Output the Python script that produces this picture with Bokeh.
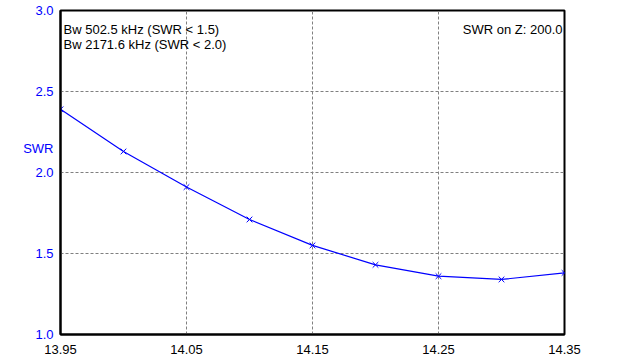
from bokeh.plotting import figure
from bokeh.models import Range1d, FixedTicker, Label, PrintfTickFormatter, ColumnDataSource
from bokeh.embed import file_html
from bokeh.resources import INLINE

# ---- data ----
freq = [13.95, 14.00, 14.05, 14.10, 14.15, 14.20, 14.25, 14.30, 14.35]
swr = [2.39, 2.13, 1.91, 1.71, 1.55, 1.43, 1.36, 1.34, 1.38]
x_ticks = [13.95, 14.05, 14.15, 14.25, 14.35]
y_ticks = [1.0, 1.5, 2.0, 2.5, 3.0]
bw_lines = ["Bw 502.5 kHz (SWR < 1.5)", "Bw 2171.6 kHz (SWR < 2.0)"]
z_text = "SWR on Z: 200.0"
y_title = "SWR"
y_title_pos = 2.15

FONT = "Liberation Sans"
BLUE = "#0000FF"

src = ColumnDataSource(data=dict(f=freq, s=swr))

p = figure(width=624, height=364, output_backend="svg", toolbar_location=None,
           x_range=Range1d(freq[0], freq[-1]), y_range=Range1d(y_ticks[0], y_ticks[-1]),
           min_border_left=60, min_border_right=60, min_border_top=10, min_border_bottom=30)
p.background_fill_color = "white"
p.border_fill_color = "white"
p.outline_line_color = "black"
p.outline_line_width = 2

# axes
for ax in (p.xaxis[0], p.yaxis[0]):
    ax.axis_line_color = "black"
    ax.axis_line_width = 2
    ax.major_tick_in = 0
    ax.major_tick_out = 0
    ax.minor_tick_in = 0
    ax.minor_tick_out = 0
    ax.major_label_text_font = FONT
    ax.major_label_text_font_size = "13px"

p.xaxis.ticker = FixedTicker(ticks=x_ticks)
p.xaxis.formatter = PrintfTickFormatter(format="%.2f")
p.xaxis.major_label_text_color = "black"
p.xaxis.major_label_standoff = 10

# y axis: numeric ticks plus the horizontal "SWR" title placed as an extra label
p.yaxis.ticker = FixedTicker(ticks=y_ticks + [y_title_pos])
p.yaxis.formatter = PrintfTickFormatter(format="%.1f")
p.yaxis.major_label_overrides = {y_title_pos: y_title}
p.yaxis.major_label_text_color = BLUE
p.yaxis.major_label_standoff = 7

# grid
p.xgrid.ticker = FixedTicker(ticks=x_ticks)
p.ygrid.ticker = FixedTicker(ticks=y_ticks)
for g in (p.xgrid[0], p.ygrid[0]):
    g.grid_line_color = "#808080"
    g.grid_line_dash = "3 2"
    g.grid_line_width = 1

# data
p.line("f", "s", source=src, line_color=BLUE, line_width=1.2)
p.scatter("f", "s", source=src, marker="x", size=8, line_color=BLUE, line_width=1)

# texts
p.add_layout(Label(x=freq[0], y=y_ticks[-1], x_offset=3, y_offset=-19, text=bw_lines[0],
                   text_font=FONT, text_font_size="13px", text_color="black",
                   text_baseline="alphabetic", text_align="left"))
p.add_layout(Label(x=freq[0], y=y_ticks[-1], x_offset=3, y_offset=-34, text=bw_lines[1],
                   text_font=FONT, text_font_size="13px", text_color="black",
                   text_baseline="alphabetic", text_align="left"))
p.add_layout(Label(x=freq[-1], y=y_ticks[-1], x_offset=-2, y_offset=-19, text=z_text,
                   text_font=FONT, text_font_size="13px", text_color="black",
                   text_baseline="alphabetic", text_align="right"))

open("out.html", "w").write(file_html(p, INLINE))
